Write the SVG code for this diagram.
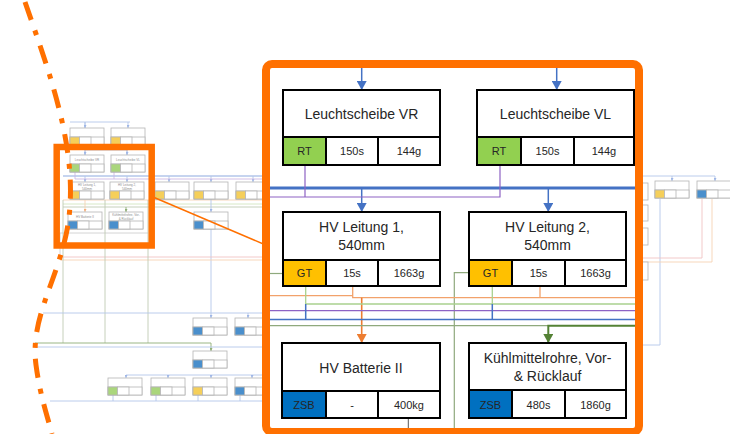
<svg xmlns="http://www.w3.org/2000/svg" width="730" height="434" viewBox="0 0 730 434">
<style>
.sn rect{fill:#fff;stroke:#b5b5b5;stroke-width:0.8}
.sn .g{fill:#aad67c}
.sn .y{fill:#f5cf5a}
.sn .b{fill:#4a8fcc}
.st{font-family:"Liberation Sans",Arial,sans-serif;font-size:3px;fill:#8c8c8c;text-anchor:middle}
.bl{fill:none;stroke-width:0.9}
.lb{stroke:#b3c6ea}
.lp{stroke:#f0c3c3}
.lo{stroke:#f6d3b3}
.lg{stroke:#d3e5bf}
.lgg{stroke:#bfcbb3}
.ldg{stroke:#8fae77}
.lgr{stroke:#cfcfcf}
.lpu{stroke:#cdb8e3}
.node rect{fill:#fff;stroke:#000;stroke-width:2}
.node .rt{fill:#92d050}
.node .gt{fill:#ffc000}
.node .zsb{fill:#0070c0}
.t{font-family:"Liberation Sans",Arial,sans-serif;font-size:14px;fill:#262626;text-anchor:middle}
.c{font-family:"Liberation Sans",Arial,sans-serif;font-size:11px;fill:#262626;text-anchor:middle}
.cn{fill:none}
.blue{stroke:#4472c4;stroke-width:1.5}
.bluet{stroke:#4472c4;stroke-width:3}
.pur{stroke:#8e63c4;stroke-width:1.2}
.org{stroke:#f2a26b;stroke-width:1.3}
.orgd{stroke:#ed7d31;stroke-width:1.6}
.grn{stroke:#a9d18e;stroke-width:1.3}
.gg{stroke:#8fa97d;stroke-width:1.2}
.dg{stroke:#548235;stroke-width:2}
.gry{stroke:#595959;stroke-width:1}
.frame{fill:none;stroke:#ff7000}
</style>
<defs>
<marker id="ab" markerUnits="userSpaceOnUse" markerWidth="10" markerHeight="10" refX="9" refY="5" orient="auto"><path d="M0,0 L9,5 L0,10 z" fill="#4472c4"/></marker>
<marker id="ao" markerUnits="userSpaceOnUse" markerWidth="10" markerHeight="10" refX="9" refY="5" orient="auto"><path d="M0,0 L9,5 L0,10 z" fill="#ed7d31"/></marker>
<marker id="ag" markerUnits="userSpaceOnUse" markerWidth="10" markerHeight="10" refX="9" refY="5" orient="auto"><path d="M0,0 L9,5 L0,10 z" fill="#548235"/></marker>
<marker id="sb" markerUnits="userSpaceOnUse" markerWidth="3" markerHeight="3" refX="3" refY="1.5" orient="auto"><path d="M0,0 L3,1.5 L0,3 z" fill="#9fb6e6"/></marker>
<marker id="so" markerUnits="userSpaceOnUse" markerWidth="3" markerHeight="3" refX="3" refY="1.5" orient="auto"><path d="M0,0 L3,1.5 L0,3 z" fill="#f3b07e"/></marker>
<marker id="sg" markerUnits="userSpaceOnUse" markerWidth="3" markerHeight="3" refX="3" refY="1.5" orient="auto"><path d="M0,0 L3,1.5 L0,3 z" fill="#8fae77"/></marker>
</defs>
<rect x="0" y="0" width="730" height="434" fill="#fff"/>

<!-- faint overview diagram -->
<g id="overview-lines" class="bl">
<path class="lb" d="M70,122 H130 M85,122 V128 M128,122 V128" marker-end="url(#sb)"/>
<path class="lb" d="M85,122 V128" marker-end="url(#sb)"/>
<path class="lb" d="M85,150 H127 M85,150 V155 M127,150 V155"/>
<path class="lb" d="M85,150 V155" marker-end="url(#sb)"/>
<path class="lb" d="M127,150 V155" marker-end="url(#sb)"/>
<path class="lb" d="M63,176 H262" stroke-width="1.3"/>
<path class="lb" d="M85,176 V182" marker-end="url(#sb)"/>
<path class="lb" d="M127,176 V182" marker-end="url(#sb)"/>
<path class="lb" d="M169,176 V182" marker-end="url(#sb)"/>
<path class="lb" d="M211,176 V182" marker-end="url(#sb)"/>
<path class="lb" d="M253,176 V182" marker-end="url(#sb)"/>
<path class="lpu" d="M75,172 V179 H262 M114,172 V179"/>
<path class="lo" d="M63,200 H262"/>
<path class="lg" d="M63,204 H262"/>
<path class="lgg" d="M63,207 H262"/>
<path class="lo" d="M85,200 V212" marker-end="url(#so)"/>
<path class="ldg" d="M126,207 V212" marker-end="url(#sg)"/>
<path class="lb" d="M211,199 V212" marker-end="url(#sb)"/>
<path class="lb" d="M211,229 V318" marker-end="url(#sb)"/>
<path class="lgr" d="M60,233 H148 M60,233 V257"/>
<path class="lp" d="M60,257 H262"/>
<path class="lo" d="M60,260 H262"/>
<path class="lgg" d="M63,200 V343 M105,200 V343 M148,200 V343"/>
<path class="lb" d="M43,313 H262"/>
<path class="lb" d="M248,313 V318" marker-end="url(#sb)"/>
<path class="ldg" d="M35,343 H211 V351" marker-end="url(#sg)"/>
<path class="lb" d="M35,347 H262"/>
<path class="lb" d="M126,375 H262"/>
<path class="lb" d="M126,375 V378" marker-end="url(#sb)"/>
<path class="lb" d="M168,375 V378" marker-end="url(#sb)"/>
<path class="lb" d="M211,375 V378" marker-end="url(#sb)"/>
<path class="lb" d="M252,375 V378" marker-end="url(#sb)"/>
<path class="lb" d="M50,401 H262 M113,395 V401 M156,395 V401 M198,395 V401 M240,395 V401"/>
<path class="lb" d="M643,176 H715"/>
<path class="lb" d="M672,176 V181" marker-end="url(#sb)"/>
<path class="lb" d="M715,176 V181" marker-end="url(#sb)"/>
<path class="lb" d="M660,199 V345 H643"/>
<path class="lp" d="M702,199 V258 H643"/>
<path class="lo" d="M712,199 V262 H643"/>
</g>

<g id="overview-nodes">
<g class="sn"><rect x="70" y="128" width="34" height="17"/><rect x="70" y="137" width="34" height="8"/><rect class="y" x="70" y="137" width="9.5" height="8"/><rect x="79.5" y="137" width="11.5" height="8"/></g>
<g class="sn"><rect x="111" y="128" width="34" height="17"/><rect x="111" y="137" width="34" height="8"/><rect class="y" x="111" y="137" width="9.5" height="8"/><rect x="120.5" y="137" width="11.5" height="8"/></g>
<g class="sn"><rect x="70" y="155" width="34" height="17"/><rect x="70" y="164" width="34" height="8"/><rect class="g" x="70" y="164" width="9.5" height="8"/><rect x="79.5" y="164" width="11.5" height="8"/><text class="st" x="87" y="161">Leuchtscheibe VR</text></g>
<g class="sn"><rect x="111" y="155" width="34" height="17"/><rect x="111" y="164" width="34" height="8"/><rect class="g" x="111" y="164" width="9.5" height="8"/><rect x="120.5" y="164" width="11.5" height="8"/><text class="st" x="128" y="161">Leuchtscheibe VL</text></g>
<g class="sn"><rect x="70" y="182" width="34" height="17"/><rect x="70" y="191" width="34" height="8"/><rect class="y" x="70" y="191" width="9.5" height="8"/><rect x="79.5" y="191" width="11.5" height="8"/><text class="st" x="87" y="186">HV Leitung 1,</text><text class="st" x="87" y="189.5">540mm</text></g>
<g class="sn"><rect x="110" y="182" width="34" height="17"/><rect x="110" y="191" width="34" height="8"/><rect class="y" x="110" y="191" width="9.5" height="8"/><rect x="119.5" y="191" width="11.5" height="8"/><text class="st" x="127" y="186">HV Leitung 2,</text><text class="st" x="127" y="189.5">540mm</text></g>
<g class="sn"><rect x="155" y="182" width="34" height="17"/><rect x="155" y="191" width="34" height="8"/><rect class="y" x="155" y="191" width="9.5" height="8"/><rect x="164.5" y="191" width="11.5" height="8"/></g>
<g class="sn"><rect x="194" y="182" width="34" height="17"/><rect x="194" y="191" width="34" height="8"/><rect class="y" x="194" y="191" width="9.5" height="8"/><rect x="203.5" y="191" width="11.5" height="8"/></g>
<g class="sn"><rect x="236" y="182" width="34" height="17"/><rect x="236" y="191" width="34" height="8"/><rect class="y" x="236" y="191" width="9.5" height="8"/><rect x="245.5" y="191" width="11.5" height="8"/></g>
<g class="sn"><rect x="68" y="212" width="34" height="17"/><rect x="68" y="221" width="34" height="8"/><rect class="b" x="68" y="221" width="9.5" height="8"/><rect x="77.5" y="221" width="11.5" height="8"/><text class="st" x="85" y="218">HV Batterie II</text></g>
<g class="sn"><rect x="109" y="212" width="34" height="17"/><rect x="109" y="221" width="34" height="8"/><rect class="b" x="109" y="221" width="9.5" height="8"/><rect x="118.5" y="221" width="11.5" height="8"/><text class="st" x="126" y="216">Kühlmittelrohre, Vor-</text><text class="st" x="126" y="219.5">&amp; Rücklauf</text></g>
<g class="sn"><rect x="194" y="212" width="34" height="17"/><rect x="194" y="221" width="34" height="8"/><rect class="b" x="194" y="221" width="9.5" height="8"/><rect x="203.5" y="221" width="11.5" height="8"/></g>
<g class="sn"><rect x="193" y="318" width="34" height="17"/><rect x="193" y="327" width="34" height="8"/><rect class="b" x="193" y="327" width="9.5" height="8"/><rect x="202.5" y="327" width="11.5" height="8"/></g>
<g class="sn"><rect x="235" y="318" width="34" height="17"/><rect x="235" y="327" width="34" height="8"/><rect class="b" x="235" y="327" width="9.5" height="8"/><rect x="244.5" y="327" width="11.5" height="8"/></g>
<g class="sn"><rect x="193" y="351" width="34" height="17"/><rect x="193" y="360" width="34" height="8"/><rect class="b" x="193" y="360" width="9.5" height="8"/><rect x="202.5" y="360" width="11.5" height="8"/></g>
<g class="sn"><rect x="108" y="378" width="34" height="17"/><rect x="108" y="387" width="34" height="8"/><rect class="g" x="108" y="387" width="9.5" height="8"/><rect x="117.5" y="387" width="11.5" height="8"/></g>
<g class="sn"><rect x="151" y="378" width="34" height="17"/><rect x="151" y="387" width="34" height="8"/><rect class="g" x="151" y="387" width="9.5" height="8"/><rect x="160.5" y="387" width="11.5" height="8"/></g>
<g class="sn"><rect x="193" y="378" width="34" height="17"/><rect x="193" y="387" width="34" height="8"/><rect class="y" x="193" y="387" width="9.5" height="8"/><rect x="202.5" y="387" width="11.5" height="8"/></g>
<g class="sn"><rect x="235" y="378" width="34" height="17"/><rect x="235" y="387" width="34" height="8"/><rect class="b" x="235" y="387" width="9.5" height="8"/><rect x="244.5" y="387" width="11.5" height="8"/></g>
<g class="sn"><rect x="655" y="181" width="34" height="17"/><rect x="655" y="190" width="34" height="8"/><rect class="y" x="655" y="190" width="9.5" height="8"/><rect x="664.5" y="190" width="11.5" height="8"/></g>
<g class="sn"><rect x="697" y="181" width="34" height="17"/><rect x="697" y="190" width="34" height="8"/><rect class="b" x="697" y="190" width="9.5" height="8"/><rect x="706.5" y="190" width="11.5" height="8"/></g>
<g class="sn"><rect x="628" y="183" width="20" height="17"/><rect x="628" y="205" width="20" height="16"/><rect x="628" y="228" width="20" height="17"/><rect x="628" y="262" width="20" height="18"/></g>
</g>

<!-- highlight marks -->
<path id="dashdot" d="M25,2 C52,80 82,160 66,235 C55,285 30,320 36,365 C40,395 47,415 52,434" fill="none" stroke="#ff7000" stroke-width="5" stroke-dasharray="19 11 5 11"/>
<rect id="small-frame" x="56.7" y="147" width="95" height="98.5" fill="none" stroke="#ff7000" stroke-width="6.5"/>
<line id="zoom-line" x1="153" y1="197" x2="268" y2="246" stroke="#ff7000" stroke-width="1.5"/>

<!-- magnified frame -->
<rect x="266" y="64" width="373" height="368" rx="6" fill="#fff"/>

<g id="connectors" class="cn">
<path class="blue" d="M361.7,68 V90" marker-end="url(#ab)"/>
<path class="blue" d="M556.7,68 V90" marker-end="url(#ab)"/>
<path class="bluet" d="M270,188 H635"/>
<path class="blue" d="M361.7,188 V212" marker-end="url(#ab)"/>
<path class="blue" d="M548.3,188 V212" marker-end="url(#ab)"/>
<path class="pur" d="M305,165 V197 M270,197 H500 V165"/>
<path class="gg" d="M270,273.5 H283"/>
<path class="gg" d="M469,272.7 H454.3 V432"/>
<path class="org" d="M270,295.7 H352.7"/>
<path class="org" d="M352.7,286 V297.7 H635 M540,286 V297.7"/>
<path class="orgd" d="M361.7,297.7 V343" marker-end="url(#ao)"/>
<path class="grn" d="M305.7,286 V304 H635 M492.3,286 V304"/>
<path class="pur" d="M270,310.7 H635"/>
<path class="blue" d="M270,319.5 H635 M305.7,304 V319.5 M492.3,304 V319.5" stroke-width="1.8"/>
<path class="gg" d="M270,325.7 H548.3" stroke="#a8bc98"/>
<path class="dg" d="M635,325.7 H548.3 V343" marker-end="url(#ag)"/>
<path class="gry" d="M408.3,418 V432"/>
</g>

<g id="n-leuchtscheibe-vr" class="node">
<rect x="283" y="90" width="157" height="47"/>
<rect class="rt" x="283" y="137" width="43" height="28"/><rect x="326" y="137" width="52" height="28"/><rect x="378" y="137" width="62" height="28"/>
<text class="t" x="361.5" y="118.5">Leuchtscheibe VR</text>
<text class="c" x="304.5" y="155">RT</text><text class="c" x="352" y="155">150s</text><text class="c" x="409" y="155">144g</text>
</g>
<g id="n-leuchtscheibe-vl" class="node">
<rect x="477" y="90" width="157" height="47"/>
<rect class="rt" x="477" y="137" width="44" height="28"/><rect x="521" y="137" width="53" height="28"/><rect x="574" y="137" width="60" height="28"/>
<text class="t" x="555.5" y="118.5">Leuchtscheibe VL</text>
<text class="c" x="499" y="155">RT</text><text class="c" x="547.5" y="155">150s</text><text class="c" x="604" y="155">144g</text>
</g>
<g id="n-hv-leitung-1" class="node">
<rect x="283" y="212" width="157" height="48"/>
<rect class="gt" x="283" y="260" width="43" height="26"/><rect x="326" y="260" width="52" height="26"/><rect x="378" y="260" width="62" height="26"/>
<text class="t" x="361.5" y="232">HV Leitung 1,</text><text class="t" x="361.5" y="250">540mm</text>
<text class="c" x="304.5" y="277">GT</text><text class="c" x="352" y="277">15s</text><text class="c" x="409" y="277">1663g</text>
</g>
<g id="n-hv-leitung-2" class="node">
<rect x="469" y="212" width="157" height="48"/>
<rect class="gt" x="469" y="260" width="43" height="26"/><rect x="512" y="260" width="53" height="26"/><rect x="565" y="260" width="61" height="26"/>
<text class="t" x="547.5" y="232">HV Leitung 2,</text><text class="t" x="547.5" y="250">540mm</text>
<text class="c" x="490.5" y="277">GT</text><text class="c" x="538.5" y="277">15s</text><text class="c" x="595.5" y="277">1663g</text>
</g>
<g id="n-hv-batterie-2" class="node">
<rect x="282" y="343" width="158" height="48"/>
<rect class="zsb" x="282" y="391" width="44" height="27"/><rect x="326" y="391" width="52" height="27"/><rect x="378" y="391" width="62" height="27"/>
<text class="t" x="361" y="373.3">HV Batterie II</text>
<text class="c" x="304" y="408.5">ZSB</text><text class="c" x="352" y="408.5">-</text><text class="c" x="409" y="408.5">400kg</text>
</g>
<g id="n-kuehlmittelrohre" class="node">
<rect x="469" y="343" width="157" height="47"/>
<rect class="zsb" x="469" y="390" width="43" height="28"/><rect x="512" y="390" width="53" height="28"/><rect x="565" y="390" width="61" height="28"/>
<text class="t" x="547.5" y="363.3">Kühlmittelrohre, Vor-</text><text class="t" x="547.5" y="381">&amp; Rücklauf</text>
<text class="c" x="490.5" y="408.5">ZSB</text><text class="c" x="538.5" y="408.5">480s</text><text class="c" x="595.5" y="408.5">1860g</text>
</g>

<rect class="frame" x="266" y="64" width="373" height="368" rx="6" stroke-width="8"/>
</svg>
